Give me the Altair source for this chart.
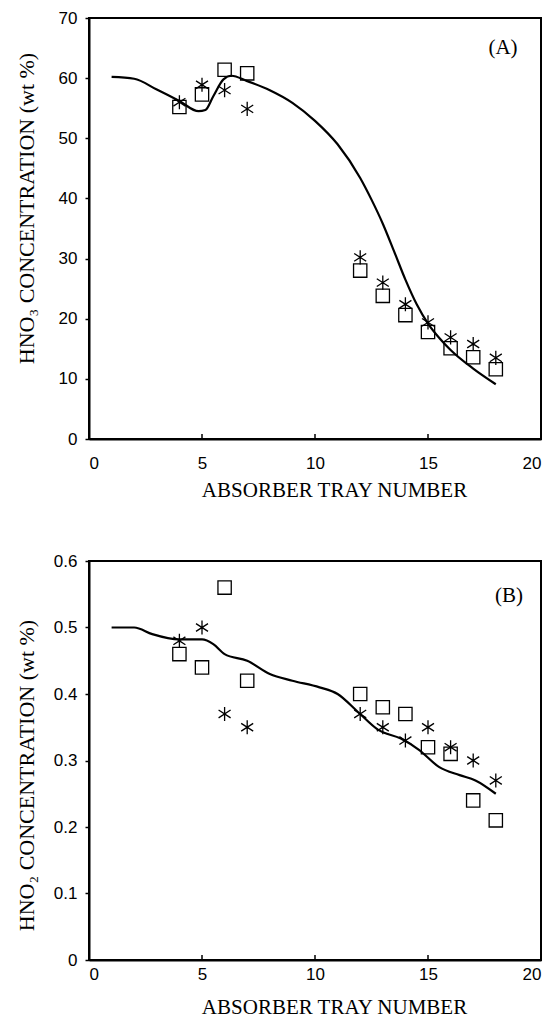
import altair as alt
import pandas as pd

# ---- data ----
trays = [4, 5, 6, 7, 12, 13, 14, 15, 16, 17, 18]

a_square = [55.2, 57.3, 61.4, 60.8, 28.0, 23.8, 20.6, 17.8, 15.1, 13.6, 11.6]
a_star = [56.0, 58.9, 58.0, 54.9, 30.2, 26.0, 22.4, 19.4, 16.9, 15.8, 13.5]
a_line_x = [1, 2, 3, 4, 4.85, 5.15, 5.5, 5.95, 6.3, 7, 8, 9, 10, 11, 12, 12.5,
            13, 13.5, 14, 14.5, 15, 15.5, 16, 17, 18]
a_line_y = [60.2, 59.9, 58.1, 56.2, 54.5, 54.7, 57.0, 59.8, 60.4, 59.5, 58.0, 55.9,
            52.9, 49.0, 43.4, 39.8, 35.8, 31.2, 26.5, 22.4, 19.2, 16.8, 14.8, 11.7, 9.1]

b_square = [0.46, 0.44, 0.56, 0.42, 0.40, 0.38, 0.37, 0.32, 0.31, 0.24, 0.21]
b_star = [0.48, 0.50, 0.37, 0.35, 0.37, 0.35, 0.33, 0.35, 0.32, 0.30, 0.27]
b_line_x = [1, 2, 2.8, 4, 5, 5.5, 6, 7, 8, 9, 10.2, 11, 11.9, 12.8, 13.8, 14.6,
            15.5, 16.4, 17.1, 18]
b_line_y = [0.50, 0.50, 0.49, 0.482, 0.482, 0.475, 0.46, 0.45, 0.43, 0.42, 0.41,
            0.40, 0.373, 0.346, 0.333, 0.316, 0.29, 0.278, 0.27, 0.25]

x_ticks = [0, 5, 10, 15, 20]
x_inner_ticks = [5, 10, 15]
a_yticks = [0, 10, 20, 30, 40, 50, 60, 70]
b_yticks = [0, 0.1, 0.2, 0.3, 0.4, 0.5, 0.6]

W = 452
H1 = 421
H2 = 399

STAR = "M0,-1L0,1M-0.85,-0.55L0.85,0.55M-0.85,0.55L0.85,-0.55"


def panel(sq, st, lx, ly, ydom, yvals, yfmt, ytitle, label, h,
          xlabpad, xtitlepad, ytitle_y, lab_x, lab_y):
    xenc = alt.X(
        "tray:Q",
        scale=alt.Scale(domain=[0, 20], nice=False, zero=False),
        axis=alt.Axis(values=x_ticks, tickSize=0, labelPadding=xlabpad,
                      title="ABSORBER TRAY NUMBER", titlePadding=xtitlepad,
                      titleX=245, titleFontSize=21,
                      format="d", grid=False),
    )
    yenc = alt.Y(
        "value:Q",
        scale=alt.Scale(domain=ydom, nice=False, zero=True),
        axis=alt.Axis(values=yvals, format=yfmt, tickSize=4, labelPadding=8,
                      title=ytitle, titleX=-63, titleY=ytitle_y, titleAngle=-90,
                      titleAlign="center", titleBaseline="middle", grid=False),
    )
    line_df = pd.DataFrame({"tray": lx, "value": ly})
    sq_df = pd.DataFrame({"tray": trays, "value": sq})
    st_df = pd.DataFrame({"tray": trays, "value": st})
    tk_df = pd.DataFrame({"tray": x_inner_ticks})
    lab_df = pd.DataFrame({"label": [label]})

    line = alt.Chart(line_df).mark_line(
        color="black", strokeWidth=2.2, interpolate="monotone"
    ).encode(x=xenc, y=yenc)
    squares = alt.Chart(sq_df).mark_point(
        shape="square", filled=False, color="black", size=177, strokeWidth=1.3, opacity=1
    ).encode(x=xenc, y=yenc)
    stars = alt.Chart(st_df).mark_point(
        shape=STAR, filled=False, color="black", size=200, strokeWidth=1.3, opacity=1
    ).encode(x=xenc, y=yenc)
    ticks = alt.Chart(tk_df).mark_rule(color="black", strokeWidth=1.5).encode(
        x=xenc, y=alt.value(h), y2=alt.value(h - 5)
    )
    txt = alt.Chart(lab_df).mark_text(
        font="Liberation Serif", fontSize=21, color="black", align="center",
        baseline="middle"
    ).encode(x=alt.value(lab_x), y=alt.value(lab_y), text="label:N")
    return alt.layer(line, squares, stars, ticks, txt).properties(width=W, height=h)


top = panel(a_square, a_star, a_line_x, a_line_y, [0, 70], a_yticks, "d",
            "HNO₃ CONCENTRATION (wt %)", "(A)", H1, 16, 8, 190, 414, 30)
bottom = panel(b_square, b_star, b_line_x, b_line_y, [0, 0.6], b_yticks, ".1~f",
               "HNO₂ CONCENTRATION (wt %)", "(B)", H2, 6, 14, 214, 420, 35)

chart = alt.vconcat(top, bottom, spacing=50).properties(
    padding={"left": 6, "top": 0, "right": 5, "bottom": 0}
).configure_view(
    stroke="black", strokeWidth=2
).configure_axis(
    domainColor="black", domainWidth=2, tickColor="black", tickWidth=1.5,
    labelColor="black", titleColor="black",
    labelFont="Liberation Sans", labelFontSize=17,
    titleFont="Liberation Serif", titleFontSize=22, titleFontWeight="normal",
    grid=False,
)

chart.save("out.html", embed_options={"renderer": "svg", "actions": False})
